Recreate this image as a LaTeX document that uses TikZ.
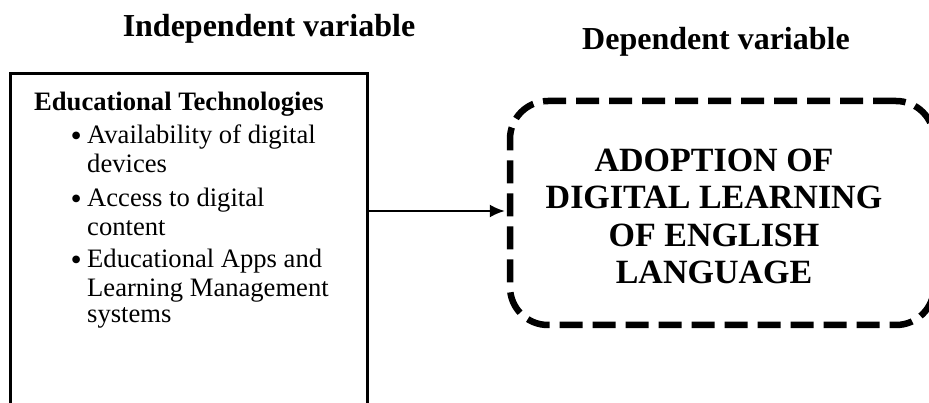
\documentclass[tikz,border=0pt]{standalone}
\usepackage{fontspec}
\setmainfont{Liberation Serif}
\usetikzlibrary{arrows.meta}
\begin{document}
\begin{tikzpicture}[x=1pt,y=-1pt,
  title/.style={font=\fontsize{32}{36}\selectfont\bfseries, inner sep=0pt, anchor=base},
  body/.style={font=\fontsize{26.6}{29}\selectfont, inner sep=0pt, anchor=base west, text height=18pt, text depth=5pt},
  bul/.style={font=\fontsize{32}{29}\selectfont, inner sep=0pt, anchor=base east},
  dvline/.style={font=\fontsize{34}{37}\selectfont\bfseries, inner sep=0pt, anchor=base, text height=23pt, text depth=1pt},
  ivbox/.style={draw, line width=3pt, minimum width=357pt, minimum height=390pt, inner sep=0pt, outer sep=0pt},
  dvbox/.style={draw, line width=6.5pt, rounded corners=38pt, dash pattern=on 23pt off 10pt, minimum width=424pt, minimum height=224pt, inner sep=0pt},
  conn/.style={line width=2pt, -{Latex[length=15pt,width=13pt]}}
]
\useasboundingbox (0,0) rectangle (929,403);
\clip (0,0) rectangle (929,403);
% titles
\node[title] (tind) at (269,37) {Independent variable};
\node[title] (tdep) at (716,50) {Dependent variable};
% independent box
\node[ivbox] (iv) at (189,269) {};
\node[body, font=\fontsize{26.6}{29}\selectfont\bfseries] (head) at (34,111) {Educational Technologies};
\node[bul] (b1) at (82,147) {\textbullet};
\node[body] (l1) at (87,144) {Availability of digital};
\node[body] (l2) at (87,173) {devices};
\node[bul] (b2) at (82,210) {\textbullet};
\node[body] (l3) at (87,207) {Access to digital};
\node[body] (l4) at (87,236) {content};
\node[bul] (b3) at (82,271) {\textbullet};
\node[body] (l5) at (87,268) {Educational Apps and};
\node[body] (l6) at (87,297) {Learning Management};
\node[body] (l7) at (87,323) {systems};
% dependent box
\node[dvbox] (dv) at (722,213) {};
\node[dvline] (d1) at (714,172) {ADOPTION OF};
\node[dvline] (d2) at (714,209) {DIGITAL LEARNING};
\node[dvline] (d3) at (714,247) {OF ENGLISH};
\node[dvline] (d4) at (714,284) {LANGUAGE};
% connector
\coordinate (arr) at (440,211);
\draw[conn, shorten >=2pt] (iv.east |- arr) -- (dv.west |- arr);
\end{tikzpicture}
\end{document}
